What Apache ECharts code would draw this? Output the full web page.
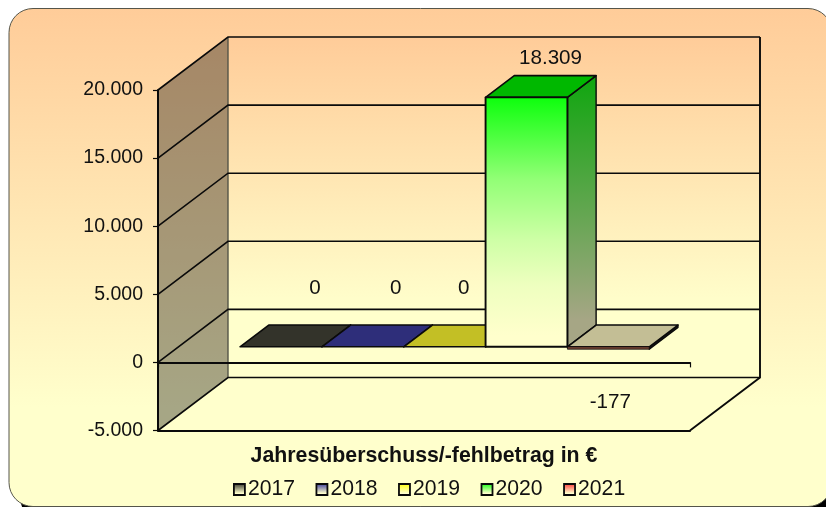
<!DOCTYPE html>
<html><head><meta charset="utf-8">
<style>html,body{margin:0;padding:0;background:#fff;overflow:hidden}#c{width:826px;height:507px}</style>
<script src="https://cdn.jsdelivr.net/npm/echarts@6/dist/echarts.min.js"></script>
</head><body><div id="c"></div>
<script>
const categoryName = ['Jahresüberschuss/-fehlbetrag in €'];
const years = ['2017','2018','2019','2020','2021'];
const values = [0,0,0,18309,-177];
const yTicks = [-5000,0,5000,10000,15000,20000];

// styling, kept apart from the data
const FONT = '"Liberation Sans", Arial, sans-serif';
const INK = '#0a0a0a';
const DEPTH = {dx:70, dy:-53, front:0.295, back:0.705, gap:1.5};
const labelShift = [[34,-58],[33,-58],[19,-58],[24,-39],[2,56]];
const palette = [
  {front:'#2f2f26', end:'#ffffcc', top:'#33332a', side:'#222'},
  {front:'#333399', end:'#ffffcc', top:'#2e2e7a', side:'#222'},
  {front:'#ffff00', end:'#ffffcc', top:'#c3bf25', side:'#222'},
  {front:'#0cff0c', end:'#ffffcc', top:'#00b800', side:['#0ea60e','#a6a685']},
  {front:'#ff3333', end:'#ffffcc', top:'#c3be95', side:'#1a1a1a', edge:'#7a4636'}
];
const grad = (a,b)=>({type:'linear',x:0,y:0,x2:0,y2:1,colorStops:[{offset:0,color:a},{offset:0.8,color:b},{offset:1,color:b}]});
const skewGrad = (a,b)=>({type:'linear',x:0,y:0,x2:0.18,y2:1,colorStops:[{offset:0,color:a},{offset:0.9,color:b},{offset:1,color:b}]});
// front face of a bar: eases into the pale end colour
function hex(c){return [1,3,5].map(i=>parseInt(c.substr(i,2),16));}
function mix(a,b,t){const A=hex(a),B=hex(b);return 'rgb('+A.map((v,i)=>Math.round(v+(B[i]-v)*t)).join(',')+')';}
const easeStops = [[0,0],[0.33,0.55],[0.57,0.8],[0.75,0.93],[0.95,1],[1,1]];
const frontGrad = (a,b)=>({type:'linear',x:0,y:0,x2:0,y2:1,colorStops:easeStops.map(s=>({offset:s[0],color:mix(a,b,s[1])}))});

function bandEdges(api){
  const c = api.coord([0,0])[0], w = api.size([1,0])[0];
  return [c-w/2, c+w/2, w];
}
function wallsRender(params, api){
  const [l,r] = bandEdges(api);
  const v = api.value(1);
  const yv = api.coord([0,v])[1];
  const yMin = api.coord([0,yTicks[0]])[1], yMax = api.coord([0,yTicks[yTicks.length-1]])[1];
  const D = DEPTH, kids = [];
  const lineStyle = {stroke:INK, lineWidth:1.6, fill:null};
  if (params.dataIndex === 0){
    kids.push({type:'polygon',shape:{points:[[l+D.dx,yMax+D.dy],[r+D.dx,yMax+D.dy],[r+D.dx,yMin+D.dy],[l+D.dx,yMin+D.dy]]},
      style:{fill:grad('#ffcc99','#ffffcc')}});
    kids.push({type:'polygon',shape:{points:[[l,yMin],[r,yMin],[r+D.dx,yMin+D.dy],[l+D.dx,yMin+D.dy]]},
      style:{fill:'#ffffcc'}});
    kids.push({type:'polygon',shape:{points:[[l,yMax],[l+D.dx,yMax+D.dy],[l+D.dx,yMin+D.dy],[l,yMin]]},
      style:{fill:'rgba(0,0,0,0.35)'}});
    kids.push({type:'polyline',shape:{points:[[l+D.dx,yMax+D.dy],[l+D.dx,yMin+D.dy]]},style:{stroke:'#555548',lineWidth:1.4,fill:null}});
    kids.push({type:'polyline',shape:{points:[[r+D.dx,yMax+D.dy],[r+D.dx,yMin+D.dy],[r,yMin]]},style:{stroke:INK,lineWidth:1.9,fill:null}});
  }
  kids.push({type:'polyline',shape:{points:[[l,yv],[l+D.dx,yv+D.dy],[r+D.dx,yv+D.dy]]},style:lineStyle});
  return {type:'group',children:kids};
}
function barRender(i){
  return function(params, api){
    const [l,,w] = bandEdges(api);
    const D = DEPTH, p = palette[i];
    const barW = w/(years.length+D.gap);
    const x0 = l + barW*(D.gap/2 + i);
    const x1 = x0 + barW;
    const v = api.value(1);
    const yHi = api.coord([0,Math.max(v,0)])[1], yLo = api.coord([0,Math.min(v,0)])[1];
    const P = (x,y,f)=>[x+f*D.dx, y+f*D.dy];
    const edge = {stroke:INK, lineWidth:1.6, lineJoin:'round'};
    const kids = [];
    const sideFill = Array.isArray(p.side) ? skewGrad(p.side[0],p.side[1]) : p.side;
    kids.push({type:'polygon',shape:{points:[P(x1,yHi,D.front),P(x1,yHi,D.back),P(x1,yLo,D.back),P(x1,yLo,D.front)]},
      style:Object.assign({fill:sideFill},edge,{lineWidth:1.4})});
    kids.push({type:'polygon',shape:{points:[P(x0,yHi,D.front),P(x0,yHi,D.back),P(x1,yHi,D.back),P(x1,yHi,D.front)]},
      style:Object.assign({fill:p.top},edge)});
    if (yLo - yHi > 0.01){
      kids.push({type:'polygon',shape:{points:[P(x0,yHi,D.front),P(x1,yHi,D.front),P(x1,yLo,D.front),P(x0,yLo,D.front)]},
        style:Object.assign({fill:p.edge||frontGrad(p.front,p.end)},edge,{lineWidth:p.edge?0.8:1.9})});
    }
    const anchor = P((x0+x1)/2, yHi, D.front);
    kids.push({type:'text',style:{x:anchor[0]+labelShift[i][0],y:anchor[1]+labelShift[i][1],
      text:v.toLocaleString('de-DE'),align:'center',verticalAlign:'middle',font:'20.6px '+FONT,fill:'#111'}});
    return {type:'group',children:kids};
  };
}

const chart = echarts.init(document.getElementById('c'),null,{renderer:'canvas',width:826,height:507});
chart.setOption({
  animation:false,
  graphic:[
    {type:'rect',z:-20,silent:true,shape:{x:20,y:40,width:830,height:481,r:24},style:{fill:'#000'}},
    {type:'rect',z:-19,silent:true,shape:{x:9,y:8.5,width:823,height:498,r:24},
      style:{fill:grad('#ffcc99','#ffffcc'),stroke:'#55554a',lineWidth:1}}
  ],
  grid:{left:158,top:90,width:532,height:340.5},
  legend:{data:years,left:228,top:474,itemWidth:11,itemHeight:11,itemGap:20.5,selectedMode:false,icon:'rect',
    textStyle:{fontFamily:FONT,fontSize:21.2,color:'#111',padding:[0,0,0,-2]},
    itemStyle:{borderColor:INK,borderWidth:1.8}},
  xAxis:[
    {type:'category',data:categoryName,position:'bottom',z:3,
      axisLine:{onZero:false,lineStyle:{color:INK,width:2}},axisTick:{show:false},
      axisLabel:{margin:15,fontFamily:FONT,fontSize:21.3,fontWeight:'bold',color:'#111'},splitLine:{show:false}},
    {type:'category',data:categoryName,position:'bottom',z:3,
      axisLine:{onZero:true,lineStyle:{color:INK,width:2}},axisTick:{show:true,length:5,lineStyle:{color:INK,width:1.2}},
      axisLabel:{show:false},splitLine:{show:false}}
  ],
  yAxis:{type:'value',min:yTicks[0],max:yTicks[yTicks.length-1],interval:5000,z:3,
    axisLine:{show:true,lineStyle:{color:INK,width:2}},axisTick:{show:true,length:5,lineStyle:{color:INK,width:1.2}},
    axisLabel:{margin:15,fontFamily:FONT,fontSize:19.5,color:'#111',verticalAlign:'middle',lineHeight:22,padding:[4,0,0,0],formatter:v=>v.toLocaleString('de-DE')},
    splitLine:{show:false}},
  series:[
    {type:'custom',name:'walls',z:1,silent:true,renderItem:wallsRender,data:yTicks.map(t=>[0,t]),encode:{x:0,y:1}}
  ].concat(years.map((y,i)=>({
    type:'custom',name:y,z:5,silent:true,renderItem:barRender(i),data:[[0,values[i]]],encode:{x:0,y:1},
    itemStyle:{color:grad(palette[i].front,palette[i].end)}
  })))
});
</script></body></html>
